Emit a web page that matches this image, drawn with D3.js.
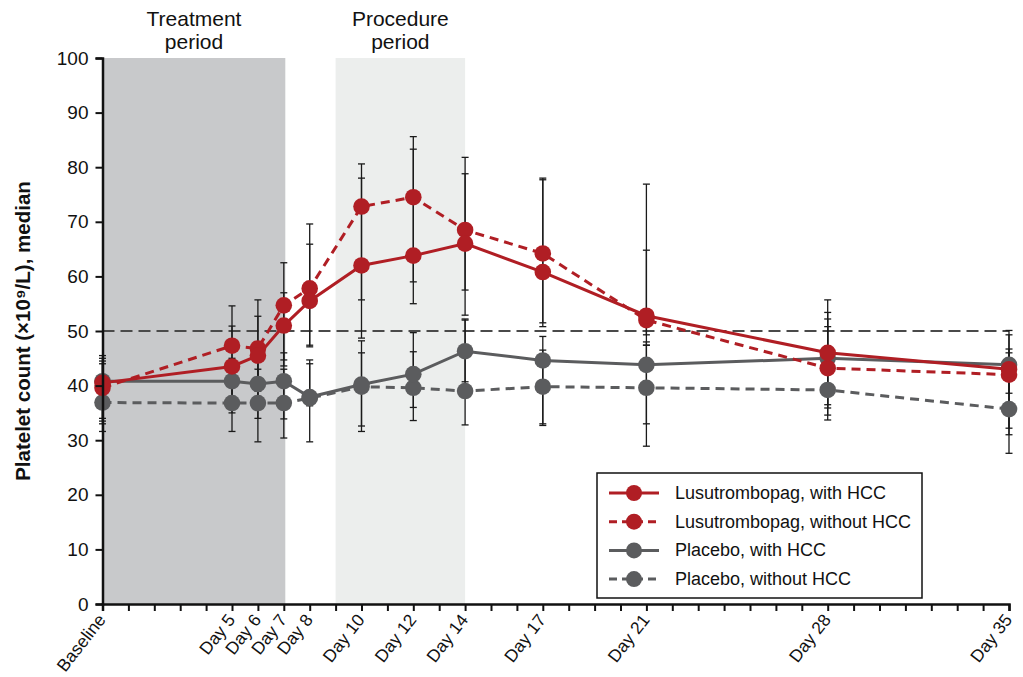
<!DOCTYPE html>
<html>
<head>
<meta charset="utf-8">
<script src="https://cdn.jsdelivr.net/npm/d3@7"></script>
<style>
  body { margin: 0; background: #fff; }
  svg { font-family: "Liberation Sans", Arial, Helvetica, sans-serif; }
</style>
</head>
<body>
<script>
const days = [0, 5, 6, 7, 8, 10, 12, 14, 17, 21, 28, 35];
const dayLabels = ["Baseline", "Day 5", "Day 6", "Day 7", "Day 8", "Day 10", "Day 12", "Day 14", "Day 17", "Day 21", "Day 28", "Day 35"];
const yTicks = [0, 10, 20, 30, 40, 50, 60, 70, 80, 90, 100];

// medians and error bar limits
const lusoHcc = [40.5, 43.5, 45.5, 51, 55.5, 62, 63.8, 66, 60.8, 52.8, 46, 43];
const lusoHccLow = [33.5, 38, 38, 43.6, 47.4, 55.7, 59, 57.5, 50.8, 47.4, 35.9, 38.6];
const lusoHccHigh = [45, 50.9, 52.7, 57, 65.9, 78, 83.3, 78.8, 77.7, 76.9, 55.7, 50.1];

const lusoNoHcc = [39.6, 47.3, 46.8, 54.7, 57.8, 72.8, 74.5, 68.5, 64.2, 52, 43.2, 42];
const lusoNoHccLow = [34, 40, 39, 44.7, 47.1, 48.7, 55, 52.9, 51.5, 49.3, 34.6, 32.2];
const lusoNoHccHigh = [45.5, 54.6, 55.7, 62.5, 69.6, 80.6, 85.6, 81.8, 78, 64.8, 53.4, 49.3];

const placHcc = [40.8, 40.8, 40.3, 40.8, 37.9, 40.2, 42.1, 46.3, 44.6, 43.8, 45, 43.8];
const placHccLow = [33, 35, 34, 33.9, 36.3, 32.6, 36, 40.7, 32.7, 28.9, 33.7, 31];
const placHccHigh = [44, 45, 46, 46, 44.7, 48.2, 49.7, 52.2, 49, 47.4, 52.2, 46.7];

const placNoHcc = [36.9, 36.8, 36.8, 36.8, 37.7, 39.8, 39.6, 39, 39.8, 39.6, 39.2, 35.7];
const placNoHccLow = [31.6, 31.6, 29.7, 30.4, 29.7, 31.6, 33.6, 32.8, 33, 33, 36.5, 27.6];
const placNoHccHigh = [44.5, 42, 43, 43, 44, 46, 46.2, 52, 46.5, 48, 50.8, 46];

const series = [
  { name: "Placebo, without HCC", values: placNoHcc, low: placNoHccLow, high: placNoHccHigh, color: "#5b5c5e", dash: "9,6" },
  { name: "Placebo, with HCC", values: placHcc, low: placHccLow, high: placHccHigh, color: "#5b5c5e", dash: null },
  { name: "Lusutrombopag, without HCC", values: lusoNoHcc, low: lusoNoHccLow, high: lusoNoHccHigh, color: "#b01e24", dash: "9,6" },
  { name: "Lusutrombopag, with HCC", values: lusoHcc, low: lusoHccLow, high: lusoHccHigh, color: "#b01e24", dash: null }
];
const legendOrder = [3, 2, 1, 0];

const width = 1023, height = 677;
const x = d3.scaleLinear().domain([0, 35]).range([102.5, 1009]);
const y = d3.scaleLinear().domain([0, 100]).range([604, 58]);

const svg = d3.select("body").append("svg")
  .attr("width", width)
  .attr("height", height);

// shaded periods
svg.append("rect")
  .attr("x", x(0)).attr("y", y(100))
  .attr("width", x(7) - x(0) + 1.5).attr("height", y(0) - y(100))
  .attr("fill", "#c8c9cb");
svg.append("rect")
  .attr("x", x(9)).attr("y", y(100))
  .attr("width", x(14) - x(9)).attr("height", y(0) - y(100))
  .attr("fill", "#eceeed");

const titles = [{ lines: ["Treatment", "period"], cx: 194 }, { lines: ["Procedure", "period"], cx: (x(9) + x(14)) / 2 }];
titles.forEach(t => {
  t.lines.forEach((l, i) => {
    svg.append("text")
      .attr("x", t.cx).attr("y", 26 + i * 23)
      .attr("text-anchor", "middle")
      .attr("font-size", 21)
      .attr("fill", "#111")
      .text(l);
  });
});

// reference line at 50
svg.append("line")
  .attr("x1", x(0)).attr("x2", x(35))
  .attr("y1", y(50)).attr("y2", y(50))
  .attr("stroke", "#4a4a4a")
  .attr("stroke-width", 2)
  .attr("stroke-dasharray", "12,6");

// error bars
const bars = svg.append("g").attr("stroke", "#1a1a1a").attr("stroke-width", 1.3);
series.forEach(s => {
  days.forEach((d, i) => {
    const cx = x(d);
    bars.append("line").attr("x1", cx).attr("x2", cx).attr("y1", y(s.low[i])).attr("y2", y(s.high[i]));
    [s.low[i], s.high[i]].forEach(v => {
      bars.append("line").attr("x1", cx - 3.5).attr("x2", cx + 3.5).attr("y1", y(v)).attr("y2", y(v));
    });
  });
});

// lines and markers
const line = d3.line().x((v, i) => x(days[i])).y(v => y(v));
series.forEach(s => {
  svg.append("path")
    .datum(s.values)
    .attr("d", line)
    .attr("fill", "none")
    .attr("stroke", s.color)
    .attr("stroke-width", 3)
    .attr("stroke-dasharray", s.dash);
  svg.append("g").selectAll("circle")
    .data(s.values).enter()
    .append("circle")
    .attr("cx", (v, i) => x(days[i]))
    .attr("cy", v => y(v))
    .attr("r", 8.3)
    .attr("fill", s.color);
});

// axes
const yAxis = svg.append("g")
  .attr("transform", `translate(${x(0)},0)`)
  .call(d3.axisLeft(y).tickValues(yTicks).tickSize(7).tickPadding(7));
yAxis.select(".domain").attr("stroke", "#111").attr("stroke-width", 2.5);
yAxis.selectAll(".tick line").attr("stroke", "#111").attr("stroke-width", 2);
yAxis.selectAll("text").attr("font-size", 19).attr("fill", "#111").attr("font-family", "Liberation Sans, Arial, sans-serif");

const xAxis = svg.append("g")
  .attr("transform", `translate(0,${y(0)})`)
  .call(d3.axisBottom(x).tickValues(d3.range(0, 36)).tickSize(7).tickFormat(""));
xAxis.select(".domain").attr("stroke", "#111").attr("stroke-width", 2.5);
xAxis.selectAll(".tick line").attr("stroke", "#111").attr("stroke-width", 2);

svg.append("g").selectAll("text")
  .data(days).enter()
  .append("text")
  .attr("transform", (d) => `translate(${x(d) + 4},${y(0) + 16}) rotate(-52)`)
  .attr("text-anchor", "end")
  .attr("font-size", 17.5)
  .attr("fill", "#111")
  .text((d, i) => dayLabels[i]);

// y label
svg.append("text")
  .attr("transform", `translate(30,${(y(0) + y(100)) / 2}) rotate(-90)`)
  .attr("text-anchor", "middle")
  .attr("font-size", 20.5)
  .attr("font-weight", "bold")
  .attr("fill", "#111")
  .text("Platelet count (×10⁹/L), median");

// legend
const legend = svg.append("g").attr("transform", "translate(597,473)");
legend.append("rect")
  .attr("width", 325).attr("height", 125)
  .attr("fill", "#fff")
  .attr("stroke", "#111")
  .attr("stroke-width", 1.5);
legendOrder.forEach((si, k) => {
  const s = series[si];
  const g = legend.append("g").attr("transform", `translate(0,${20 + k * 28.7})`);
  g.append("line")
    .attr("x1", 12).attr("x2", 62)
    .attr("stroke", s.color).attr("stroke-width", 3)
    .attr("stroke-dasharray", s.dash ? "8,5" : null);
  g.append("circle").attr("cx", 37).attr("r", 8).attr("fill", s.color);
  g.append("text")
    .attr("x", 78).attr("y", 6)
    .attr("font-size", 18)
    .attr("fill", "#111")
    .text(s.name);
});
</script>
</body>
</html>
